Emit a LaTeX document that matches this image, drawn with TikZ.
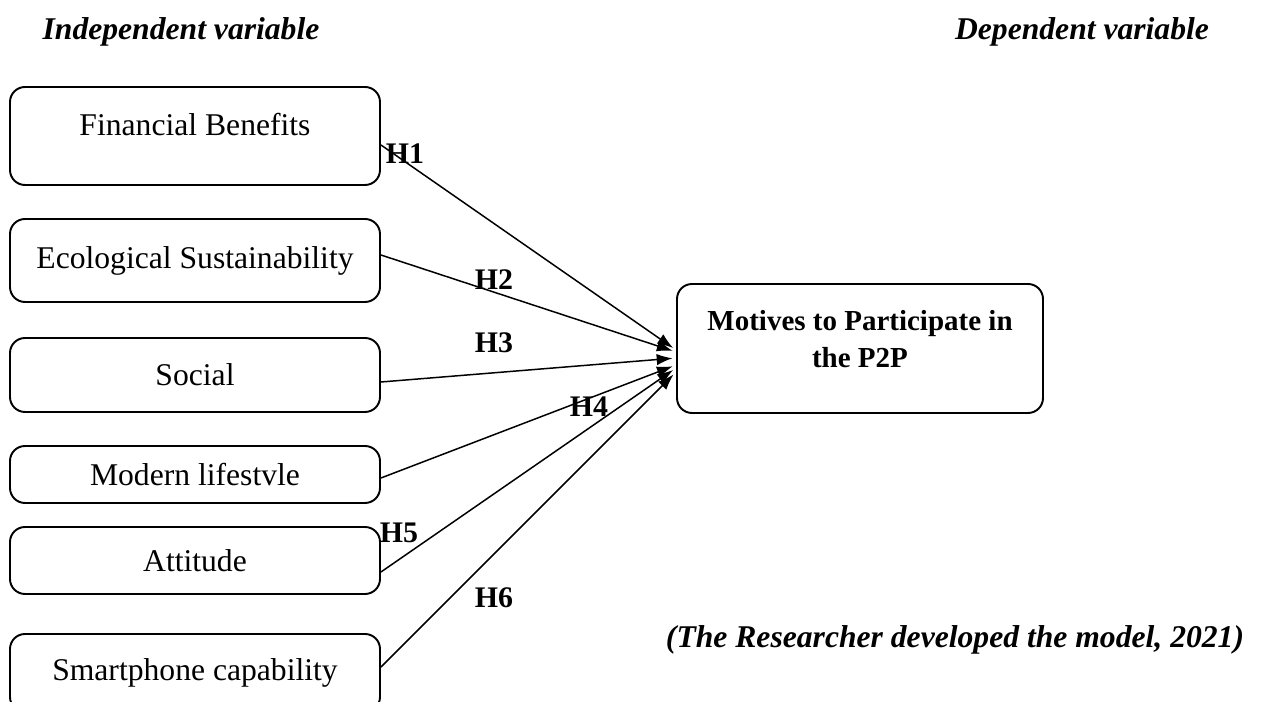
\documentclass[tikz,border=0pt]{standalone}
\usepackage{fontspec}
\setmainfont{Liberation Serif}
\usetikzlibrary{arrows.meta}

\begin{document}
\begin{tikzpicture}[
	caja/.style={draw, line width=1.1pt, rounded corners=.3cm, minimum width=7.4cm, font=\fontsize{18}{21}\selectfont},
	flecha/.style={-{Latex[length=9pt,width=6.5pt]}, line width=.85pt, shorten >=2pt},
	hip/.style={font=\fontsize{17}{20}\selectfont\bfseries},
	rotulo/.style={font=\fontsize{18}{21}\selectfont\bfseries\itshape}]
			\clip (0,0) rectangle (25.3,-14.04);
			%Titulos%
			\node[rotulo] (indep) at (3.62,-.64) {Independent variable};
			\node[rotulo] (dep) at (21.64,-.64) {Dependent variable};
			%Variables%
			\node[caja, minimum height=1.96cm, text depth=.45cm] (fin) at (3.9,-2.72) {Financial Benefits};
			\node[caja, minimum height=1.66cm] (eco) at (3.9,-5.21) {Ecological Sustainability};
			\node[caja, minimum height=1.48cm] (soc) at (3.9,-7.5) {Social};
			\node[caja, minimum height=1.14cm] (mod) at (3.9,-9.49) {Modern lifestvle};
			\node[caja, minimum height=1.34cm] (act) at (3.9,-11.21) {Attitude};
			\node[caja, minimum height=1.56cm] (cel) at (3.9,-13.46) {Smartphone capability};
			\node[caja, minimum width=7.32cm, minimum height=2.58cm, align=center, text depth=.4cm,
				font=\fontsize{16.5}{21}\selectfont\bfseries] (motivo) at (17.2,-6.97) {Motives to Participate in\\the P2P};
			%Flechas%
			\draw[flecha] ([yshift=-.18cm]fin.east) -- ([yshift=-.03cm]motivo.west);
			\draw[flecha] ([yshift=.11cm]eco.east) -- ([yshift=-.07cm]motivo.west);
			\draw[flecha] ([yshift=-.14cm]soc.east) -- ([yshift=-.19cm]motivo.west);
			\draw[flecha] ([yshift=-.07cm]mod.east) -- ([yshift=-.33cm]motivo.west);
			\draw[flecha] ([yshift=-.23cm]act.east) -- ([yshift=-.39cm]motivo.west);
			\draw[flecha] ([yshift=.12cm]cel.east) -- ([yshift=-.47cm]motivo.west);
			%Hipotesis%
			\node[hip] (h1) at (8.1,-3.08) {H1};
			\node[hip] (h2) at (9.88,-5.6) {H2};
			\node[hip] (h3) at (9.88,-6.86) {H3};
			\node[hip] (h4) at (11.78,-8.14) {H4};
			\node[hip] (h5) at (7.98,-10.66) {H5};
			\node[hip] (h6) at (9.88,-11.96) {H6};
			\node[rotulo] (fuente) at (19.1,-12.8) {(The Researcher developed the model, 2021)};
			\end{tikzpicture}
\end{document}
